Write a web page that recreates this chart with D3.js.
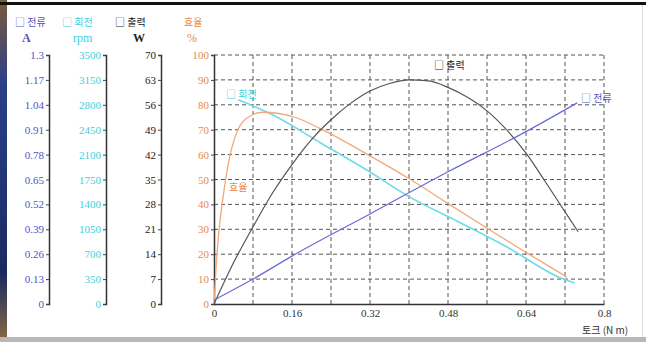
<!DOCTYPE html>
<html>
<head>
<meta charset="utf-8">
<script src="https://cdn.jsdelivr.net/npm/d3@7"></script>
<style>
  body { margin: 0; background: #fff; }
  svg { display: block; }
  .tick text { font-family: "Liberation Serif", serif; font-size: 11px; }
</style>
</head>
<body>
<svg id="chart" width="646" height="342"></svg>
<script>
// tick values for each axis
const torqueTicks = [0, 0.16, 0.32, 0.48, 0.64, 0.8];
const torqueGrid = [0.08, 0.16, 0.24, 0.32, 0.4, 0.48, 0.56, 0.64, 0.72, 0.8];
const currentTicks = [0, 0.13, 0.26, 0.39, 0.52, 0.65, 0.78, 0.91, 1.04, 1.17, 1.3];
const rpmTicks = [0, 350, 700, 1050, 1400, 1750, 2100, 2450, 2800, 3150, 3500];
const powerTicks = [0, 7, 14, 21, 28, 35, 42, 49, 56, 63, 70];
const effTicks = [0, 10, 20, 30, 40, 50, 60, 70, 80, 90, 100];

// series: [torque N·m, value]
const currentData = [[0, 0.02], [0.08, 0.13], [0.16, 0.25], [0.32, 0.47], [0.48, 0.69],
  [0.64, 0.9], [0.745, 1.05]];
const rpmData = [[0.05, 2870], [0.12, 2660], [0.22, 2260], [0.32, 1855], [0.4, 1510],
  [0.5, 1160], [0.6, 805], [0.71, 370], [0.74, 295]];
const powerData = [[0, 0], [0.04, 11.6], [0.08, 21.7], [0.12, 31.2], [0.16, 39.2], [0.2, 46.2],
  [0.24, 51.8], [0.28, 56.4], [0.32, 59.9], [0.36, 62], [0.4, 63], [0.44, 62.7], [0.48, 60.9],
  [0.52, 58.1], [0.56, 54.3], [0.6, 49], [0.64, 42.4], [0.68, 34.3], [0.72, 25.9], [0.747, 20.3]];
const effData = [[0, 0], [0.004, 14], [0.009, 27], [0.018, 42], [0.03, 57], [0.043, 67],
  [0.07, 75], [0.1, 77], [0.166, 75], [0.217, 70.5], [0.32, 59.5], [0.398, 50.6],
  [0.478, 40.6], [0.566, 29.7], [0.642, 20.5], [0.724, 10.8]];

const colors = { current: "#6a6ad8", rpm: "#6ddbe8", power: "#555", eff: "#f2a878" };
const textColors = { current: "#5252c4", rpm: "#3ccfe0", power: "#222", eff: "#e8894a" };

const svg = d3.select("#chart");
const plotTop = 55, plotBottom = 304, plotLeft = 214, plotRight = 604;

// frame bits of the photographed screen
const grad = svg.append("defs").append("linearGradient")
  .attr("id", "edge").attr("x1", 0).attr("y1", 0).attr("x2", 0).attr("y2", 1);
grad.append("stop").attr("offset", "0%").attr("stop-color", "#7a5a3a");
grad.append("stop").attr("offset", "25%").attr("stop-color", "#2a3f8a");
grad.append("stop").attr("offset", "80%").attr("stop-color", "#1a2a60");
grad.append("stop").attr("offset", "100%").attr("stop-color", "#8a6a40");
svg.append("rect").attr("x", 0).attr("y", 0).attr("width", 7).attr("height", 342).attr("fill", "url(#edge)");
svg.append("rect").attr("x", 0).attr("y", 2).attr("width", 646).attr("height", 3).attr("fill", "#111");
svg.append("rect").attr("x", 0).attr("y", 337).attr("width", 646).attr("height", 5).attr("fill", "#b8b8b8");
svg.append("rect").attr("x", 642).attr("y", 5).attr("width", 1).attr("height", 332).attr("fill", "#ddd");

const x = d3.scaleLinear().domain([0, 0.8]).range([plotLeft, plotRight]);
const yCur = d3.scaleLinear().domain([0, 1.3]).range([plotBottom, plotTop]);
const yRpm = d3.scaleLinear().domain([0, 3500]).range([plotBottom, plotTop]);
const yPow = d3.scaleLinear().domain([0, 70]).range([plotBottom, plotTop]);
const yEff = d3.scaleLinear().domain([0, 100]).range([plotBottom, plotTop]);

// dashed grid
const grid = svg.append("g").attr("stroke", "#555").attr("stroke-width", 1).attr("stroke-dasharray", "4,3");
grid.selectAll(".h").data(effTicks.slice(1)).join("line").attr("class", "h")
  .attr("x1", plotLeft).attr("x2", plotRight).attr("y1", d => yEff(d)).attr("y2", d => yEff(d));
grid.selectAll(".v").data(torqueGrid).join("line").attr("class", "v")
  .attr("y1", plotTop).attr("y2", plotBottom).attr("x1", d => x(d)).attr("x2", d => x(d));

// left axes
function leftAxis(scale, ticks, xpos, color, fmt) {
  const g = svg.append("g").attr("transform", `translate(${xpos},0)`)
    .call(d3.axisLeft(scale).tickValues(ticks).tickSize(3).tickPadding(2).tickFormat(fmt));
  g.select(".domain").attr("stroke", "#333").attr("stroke-width", 1.5);
  g.selectAll(".tick line").attr("stroke", "#444");
  g.selectAll(".tick text").attr("fill", color);
  return g;
}
leftAxis(yCur, currentTicks, 49, textColors.current, d => d3.format("~g")(d));
leftAxis(yRpm, rpmTicks, 106, textColors.rpm, d => d);
leftAxis(yPow, powerTicks, 161, textColors.power, d => d);
leftAxis(yEff, effTicks, plotLeft, textColors.eff, d => d);

// bottom axis
const xg = svg.append("g").attr("transform", `translate(0,${plotBottom})`)
  .call(d3.axisBottom(x).tickValues(torqueTicks).tickSize(0).tickPadding(5).tickFormat(d => d3.format("~g")(d)));
xg.select(".domain").attr("stroke", "#333").attr("stroke-width", 1.5);
xg.selectAll(".tick text").attr("fill", "#333");

// curves
const line = (yScale) => d3.line().x(d => x(d[0])).y(d => yScale(d[1])).curve(d3.curveMonotoneX);
const curves = [
  { data: rpmData, y: yRpm, color: colors.rpm, w: 1.6 },
  { data: effData, y: yEff, color: colors.eff, w: 1.3 },
  { data: powerData, y: yPow, color: colors.power, w: 1.2 },
  { data: currentData, y: yCur, color: colors.current, w: 1.2 }
];
svg.append("g").selectAll("path").data(curves).join("path")
  .attr("fill", "none")
  .attr("stroke", d => d.color)
  .attr("stroke-width", d => d.w)
  .attr("d", d => line(d.y)(d.data));

// header labels
const kr = "'Noto Sans CJK KR', sans-serif";
const serif = "'Liberation Serif', serif";
const headers = [
  { t: "□ 전류", x: 15, y: 26, c: textColors.current, f: kr },
  { t: "A", x: 22, y: 42, c: textColors.current, f: serif },
  { t: "□ 회전", x: 62, y: 26, c: textColors.rpm, f: kr },
  { t: "rpm", x: 73, y: 42, c: textColors.rpm, f: serif },
  { t: "□ 출력", x: 115, y: 26, c: textColors.power, f: kr },
  { t: "W", x: 133, y: 42, c: textColors.power, f: serif },
  { t: "효율", x: 184, y: 26, c: textColors.eff, f: kr },
  { t: "%", x: 187, y: 42, c: textColors.eff, f: serif },
  // in-plot labels
  { t: "□ 회전", x: 226, y: 98, c: textColors.rpm, f: kr },
  { t: "효율", x: 229, y: 191, c: textColors.eff, f: kr },
  { t: "□ 출력", x: 434, y: 69, c: textColors.power, f: kr },
  { t: "□ 전류", x: 581, y: 102, c: textColors.current, f: kr },
  { t: "토크 (N m)", x: 582, y: 334, c: "#333", f: kr }
];
svg.append("g").selectAll("text").data(headers).join("text")
  .attr("x", d => d.x).attr("y", d => d.y)
  .attr("fill", d => d.c)
  .attr("font-family", d => d.f)
  .attr("font-size", d => d.f === serif ? 12 : 10)
  .attr("font-weight", d => d.t === "A" || d.t === "W" ? "bold" : "normal")
  .text(d => d.t);
</script>
</body>
</html>
